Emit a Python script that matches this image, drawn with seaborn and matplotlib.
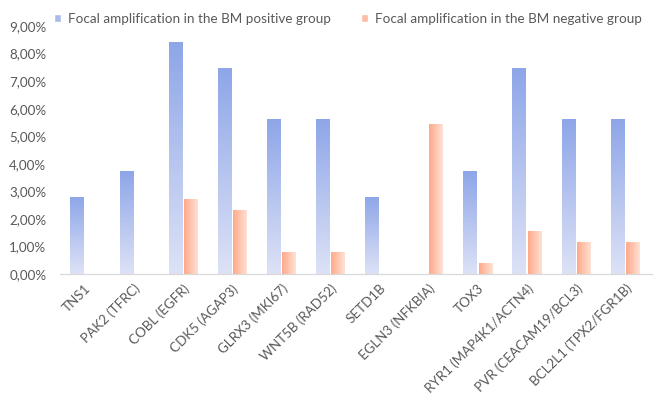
import matplotlib
matplotlib.use("Agg")
import matplotlib.pyplot as plt
import matplotlib.colors as mcolors
import numpy as np
import pandas as pd
import seaborn as sns
from matplotlib.ticker import FuncFormatter
from matplotlib.patches import Rectangle

genes = ["TNS1", "PAK2 (TFRC)", "COBL (EGFR)", "CDK5 (AGAP3)", "GLRX3 (MKI67)",
         "WNT5B (RAD52)", "SETD1B", "EGLN3 (NFKBIA)", "TOX3",
         "RYR1 (MAP4K1/ACTN4)", "PVR (CEACAM19/BCL3)", "BCL2L1 (TPX2/FGR1B)"]
positive = [2.80, 3.74, 8.41, 7.48, 5.61, 5.61, 2.80, 0.0, 3.74, 7.48, 5.61, 5.61]
negative = [0.0, 0.0, 2.72, 2.33, 0.78, 0.78, 0.0, 5.45, 0.39, 1.56, 1.17, 1.17]
groups = ["Focal amplification in the BM positive group",
          "Focal amplification in the BM negative group"]

df = pd.DataFrame({
    "gene": genes * 2,
    "value": positive + negative,
    "group": [groups[0]] * len(genes) + [groups[1]] * len(genes),
})

sns.set_style("white")
plt.rcParams["font.family"] = ["Lato", "DejaVu Sans"]
grey = "#595959"

fig = plt.figure(figsize=(6.54, 4.01), dpi=100)
ax = fig.add_axes([0.092, 0.317, 0.905, 0.618])

sns.barplot(data=df, x="gene", y="value", hue="group", order=genes,
            hue_order=groups, width=0.62, gap=0.12, ax=ax,
            palette=["#a9bbec", "#ffbda6"], legend=False)

blue_cmap = mcolors.LinearSegmentedColormap.from_list("b", ["#dde2f6", "#8ea6e8"])
orange_cmap = mcolors.LinearSegmentedColormap.from_list("o", ["#ffa888", "#ffe2d6"])

n = len(genes)
for i, patch in enumerate(ax.patches[:2 * n]):
    h = patch.get_height()
    if h <= 0:
        patch.set_visible(False)
        continue
    x0, w = patch.get_x(), patch.get_width()
    if i < n:
        grad = np.linspace(0, 1, 256).reshape(-1, 1)
        cmap = blue_cmap
    else:
        grad = np.linspace(0, 1, 256).reshape(1, -1)
        cmap = orange_cmap
    im = ax.imshow(grad, cmap=cmap, aspect="auto", origin="lower",
                   extent=[x0, x0 + w, 0, h], zorder=2)
    im.set_clip_path(patch)
    patch.set_facecolor("none")
    patch.set_edgecolor("none")

ax.set_xlim(-0.5, n - 0.45)
ax.set_ylim(0, 9)
ax.set_yticks(np.arange(0, 10, 1))
ax.yaxis.set_major_formatter(FuncFormatter(lambda v, p: f"{v:.2f}%".replace(".", ",")))
ax.set_xlabel("")
ax.set_ylabel("")
for s in ["top", "right", "left"]:
    ax.spines[s].set_visible(False)
ax.spines["bottom"].set_color("#d9d9d9")
ax.spines["bottom"].set_linewidth(0.9)
ax.tick_params(axis="both", length=0, colors=grey, labelsize=9.6)
ax.tick_params(axis="y", pad=10)
ax.tick_params(axis="x", pad=6)
plt.setp(ax.get_xticklabels(), rotation=45, ha="right", rotation_mode="anchor")

handles = [Rectangle((0, 0), 1, 1, facecolor="#a9bbec"),
           Rectangle((0, 0), 1, 1, facecolor="#ffbda6")]
leg = fig.legend(handles, groups, loc="center", bbox_to_anchor=(0.532, 0.953),
                 ncol=2, frameon=False, fontsize=9.7, handlelength=0.55,
                 handleheight=0.55, handletextpad=0.5, columnspacing=2.2)
for t in leg.get_texts():
    t.set_color(grey)

fig.savefig("out.png", dpi=100)
